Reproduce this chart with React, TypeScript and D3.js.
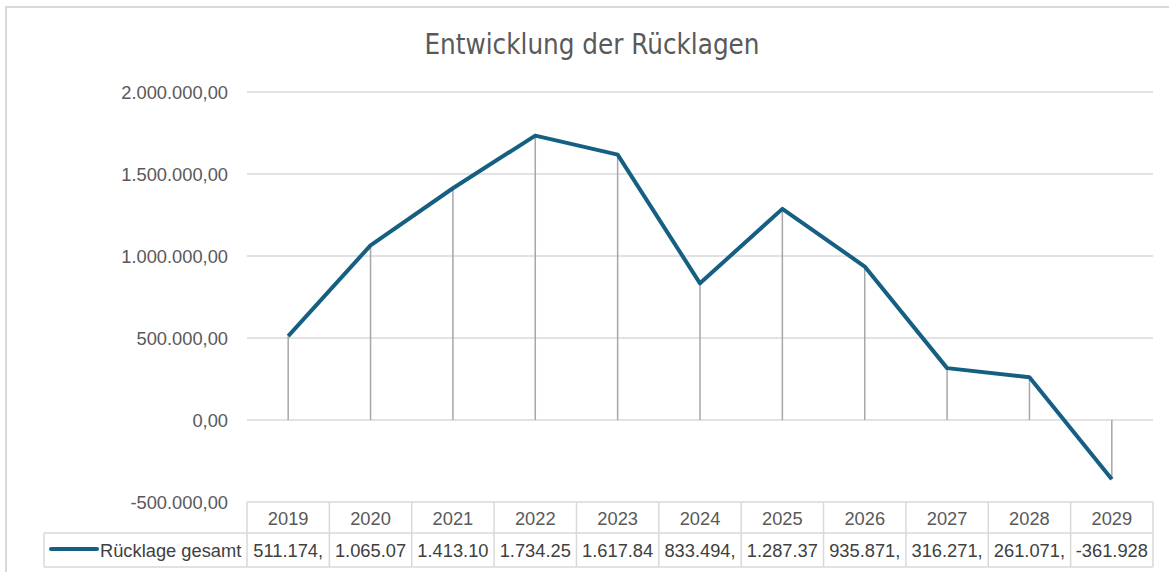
import React from "react";
import * as d3 from "d3";

const years = ["2019", "2020", "2021", "2022", "2023", "2024", "2025", "2026", "2027", "2028", "2029"];
const values = [511174, 1065070, 1413100, 1734250, 1617840, 833494, 1287370, 935871, 316271, 261071, -361928];
const tableLabels = ["511.174,", "1.065.07", "1.413.10", "1.734.25", "1.617.84", "833.494,", "1.287.37", "935.871,", "316.271,", "261.071,", "-361.928"];
const yTicks = [-500000, 0, 500000, 1000000, 1500000, 2000000];
const seriesName = "Rücklage gesamt";
const title = "Entwicklung der Rücklagen";

const W = 1169;
const H = 572;
const plotLeft = 247;
const plotRight = 1153;
const plotTop = 92;
const plotBottom = 502;
const row1Bottom = 533;
const row2Bottom = 567;
const legendLeft = 44;
const lineColor = "#156082";
const gridColor = "#d9d9d9";
const font = "'Liberation Sans', Arial, sans-serif";
const fs = 18.3;

const fmt = (v: number) => {
  const s = d3.format(",.2f")(v);
  return s.replace(/,/g, "#").replace(/\./g, ",").replace(/#/g, ".").replace("−", "-");
};

export default function App() {
  const x = d3.scaleBand<string>().domain(years).range([plotLeft, plotRight]);
  const y = d3.scaleLinear().domain([-500000, 2000000]).range([plotBottom, plotTop]);
  const cx = (yr: string) => (x(yr) as number) + x.bandwidth() / 2;
  const line = d3
    .line<number>()
    .x((_, i) => cx(years[i]))
    .y((d) => y(d));

  return (
    <svg width={W} height={H} style={{ position: "absolute", left: 0, top: 0 }}>
      <rect x={0} y={0} width={W} height={H} fill="#fff" />
      {/* outer chart border */}
      <line x1={5} y1={7} x2={W} y2={7} stroke={gridColor} strokeWidth={2} />
      <line x1={6} y1={6} x2={6} y2={H} stroke={gridColor} strokeWidth={2} />

      <text x={592} y={54} textAnchor="middle" fontFamily="'Liberation Sans Narrow', 'DejaVu Sans Condensed', sans-serif" fontSize={27.5} fill="#595959">
        {title}
      </text>

      {/* gridlines */}
      {yTicks.map((t) => (
        <line key={t} x1={plotLeft} x2={plotRight} y1={y(t)} y2={y(t)} stroke={gridColor} strokeWidth={1.5} />
      ))}
      {yTicks.map((t) => (
        <text key={"l" + t} x={228} y={y(t) + 6.5} textAnchor="end" fontFamily={font} fontSize={fs} fill="#595959">
          {fmt(t)}
        </text>
      ))}

      {/* drop lines */}
      {values.map((v, i) => (
        <line key={"d" + i} x1={cx(years[i])} x2={cx(years[i])} y1={y(v)} y2={y(0)} stroke="#a6a6a6" strokeWidth={1.5} />
      ))}

      <path d={line(values) || ""} fill="none" stroke={lineColor} strokeWidth={4} strokeLinejoin="round" />

      {/* data table */}
      <g stroke={gridColor} strokeWidth={1.5} fill="none">
        <line x1={legendLeft} x2={plotRight} y1={row1Bottom} y2={row1Bottom} />
        <line x1={legendLeft} x2={plotRight} y1={row2Bottom} y2={row2Bottom} />
        <line x1={legendLeft} x2={legendLeft} y1={row1Bottom} y2={row2Bottom} />
        {years.map((yr) => (
          <line key={"v" + yr} x1={x(yr)} x2={x(yr)} y1={plotBottom} y2={row2Bottom} />
        ))}
        <line x1={plotRight} x2={plotRight} y1={plotBottom} y2={row2Bottom} />
      </g>
      {years.map((yr) => (
        <text key={"h" + yr} x={cx(yr)} y={525} textAnchor="middle" fontFamily={font} fontSize={fs} fill="#595959">
          {yr}
        </text>
      ))}
      {tableLabels.map((lb, i) => (
        <text key={"t" + i} x={cx(years[i])} y={557} textAnchor="middle" fontFamily={font} fontSize={fs} fill="#404040">
          {lb}
        </text>
      ))}
      <line x1={51} x2={97} y1={549} y2={549} stroke={lineColor} strokeWidth={4} strokeLinecap="round" />
      <text x={100} y={557} fontFamily={font} fontSize={fs} fill="#404040">
        {seriesName}
      </text>
    </svg>
  );
}
